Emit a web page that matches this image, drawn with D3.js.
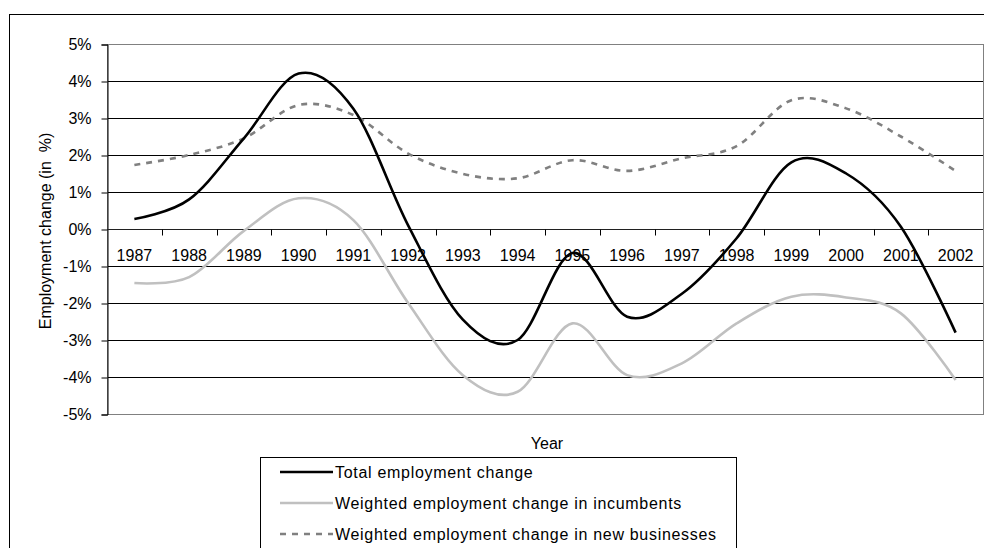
<!DOCTYPE html>
<html>
<head>
<meta charset="utf-8">
<script src="https://cdn.jsdelivr.net/npm/d3@7"></script>
<style>
  body { margin: 0; background: #fff; }
  text { font-family: "Liberation Sans", Arial, sans-serif; fill: #000; }
</style>
</head>
<body>
<div id="canvas"></div>
<script>
// values (percent)
var years = ["1987","1988","1989","1990","1991","1992","1993","1994","1995","1996","1997","1998","1999","2000","2001","2002"];
var totalChange = [0.27, 0.8, 2.45, 4.2, 3.25, 0.1, -2.45, -3.0, -0.65, -2.37, -1.75, -0.25, 1.8, 1.5, 0.06, -2.8];
var incumbents  = [-1.46, -1.3, -0.05, 0.83, 0.24, -2.0, -3.95, -4.4, -2.55, -3.95, -3.63, -2.55, -1.83, -1.85, -2.28, -4.08];
var newBusiness = [1.73, 2.0, 2.45, 3.35, 3.08, 2.04, 1.49, 1.37, 1.86, 1.57, 1.91, 2.24, 3.48, 3.26, 2.5, 1.57];
var yTicks = [5, 4, 3, 2, 1, 0, -1, -2, -3, -4, -5];
var seriesNames = ["Total employment change", "Weighted employment change in incumbents", "Weighted employment change in new businesses"];

var width = 984, height = 548;
var plot = {left: 107, right: 983, top: 44, bottom: 414};

var svg = d3.select("#canvas")
    .append("svg")
        .attr("width", width)
        .attr("height", height);

// outer chart frame
svg.append("rect")
    .attr("x", 9.5).attr("y", 14.5)
    .attr("width", 1000).attr("height", 600)
    .attr("fill", "none").attr("stroke", "#000").attr("stroke-width", 1);

var xScale = d3.scalePoint()
    .domain(years)
    .range([plot.left, plot.right])
    .padding(0.5);

var yScale = d3.scaleLinear()
    .domain([-5, 5])
    .range([plot.bottom, plot.top]);

var step = xScale.step();

// gridlines
svg.append("g")
    .selectAll("line")
    .data(yTicks.filter(function(d) { return d !== 5 && d !== -5; }))
    .enter().append("line")
    .attr("x1", plot.left).attr("x2", plot.right)
    .attr("y1", function(d) { return Math.round(yScale(d)) + 0.5; })
    .attr("y2", function(d) { return Math.round(yScale(d)) + 0.5; })
    .attr("stroke", "#000").attr("stroke-width", 1);

// plot area border
svg.append("rect")
    .attr("x", plot.left + 0.5).attr("y", plot.top + 0.5)
    .attr("width", plot.right - plot.left).attr("height", plot.bottom - plot.top)
    .attr("fill", "none").attr("stroke", "#808080").attr("stroke-width", 1);

// y axis
var yAxis = d3.axisLeft(yScale)
    .tickValues(yTicks)
    .tickSize(6)
    .tickPadding(10)
    .tickFormat(function(d) { return d + "%"; });

var yG = svg.append("g")
    .attr("transform", "translate(" + (plot.left + 0.5) + ",0.5)")
    .call(yAxis);
yG.select(".domain").attr("stroke", "#000");
yG.selectAll(".tick line").attr("stroke", "#000");
yG.selectAll("text")
    .attr("font-size", "16px")
    .attr("font-family", "Liberation Sans, Arial, sans-serif")
    .attr("fill", "#000");

// x axis sits on the 0% line, ticks between categories
var y0 = Math.round(yScale(0)) + 0.5;
svg.append("line")
    .attr("x1", plot.left).attr("x2", plot.right)
    .attr("y1", y0).attr("y2", y0)
    .attr("stroke", "#202020");

svg.append("g")
    .selectAll("line")
    .data(years.slice(1))
    .enter().append("line")
    .attr("x1", function(d) { return Math.round(xScale(d) - step / 2) + 0.5; })
    .attr("x2", function(d) { return Math.round(xScale(d) - step / 2) + 0.5; })
    .attr("y1", y0).attr("y2", y0 + 6)
    .attr("stroke", "#000");

svg.append("g")
    .selectAll("text")
    .data(years)
    .enter().append("text")
    .attr("x", function(d) { return xScale(d); })
    .attr("y", 261)
    .attr("text-anchor", "middle")
    .attr("font-size", "16px")
    .text(function(d) { return d; });

// axis titles
svg.append("text")
    .attr("transform", "translate(51," + ((plot.top + plot.bottom) / 2 + 2) + ") rotate(-90)")
    .attr("text-anchor", "middle")
    .attr("font-size", "16px")
    .style("white-space", "pre")
    .text("Employment change (in  %)");

svg.append("text")
    .attr("x", (plot.left + plot.right) / 2 + 2)
    .attr("y", 449)
    .attr("text-anchor", "middle")
    .attr("font-size", "16px")
    .text("Year");

// series
var line = d3.line()
    .x(function(d, i) { return xScale(years[i]); })
    .y(function(d) { return yScale(d); })
    .curve(d3.curveCatmullRom.alpha(0));

var styles = [
    {data: totalChange, color: "#000000", dash: null},
    {data: incumbents, color: "#c0c0c0", dash: null},
    {data: newBusiness, color: "#808080", dash: "6,6"}
];

// draw incumbents first, then new businesses, then total on top
[1, 2, 0].forEach(function(k) {
    svg.append("path")
        .datum(styles[k].data)
        .attr("d", line)
        .attr("fill", "none")
        .attr("stroke", styles[k].color)
        .attr("stroke-width", 2.6)
        .attr("stroke-dasharray", styles[k].dash)
        .attr("stroke-linejoin", "round");
});

// legend
var legend = svg.append("g");
legend.append("rect")
    .attr("x", 260.5).attr("y", 457.5)
    .attr("width", 476).attr("height", 200)
    .attr("fill", "#fff").attr("stroke", "#000");

var rows = legend.selectAll("g.row")
    .data(seriesNames)
    .enter().append("g")
    .attr("class", "row")
    .attr("transform", function(d, i) { return "translate(0," + (472 + i * 31) + ")"; });

rows.append("line")
    .attr("x1", 280).attr("x2", 333)
    .attr("y1", 0).attr("y2", 0)
    .attr("stroke", function(d, i) { return styles[i].color; })
    .attr("stroke-width", 2.6)
    .attr("stroke-dasharray", function(d, i) { return styles[i].dash; });

rows.append("text")
    .attr("x", 335)
    .attr("y", 6)
    .attr("font-size", "16px")
    .attr("letter-spacing", "0.7px")
    .text(function(d) { return d; });
</script>
</body>
</html>
